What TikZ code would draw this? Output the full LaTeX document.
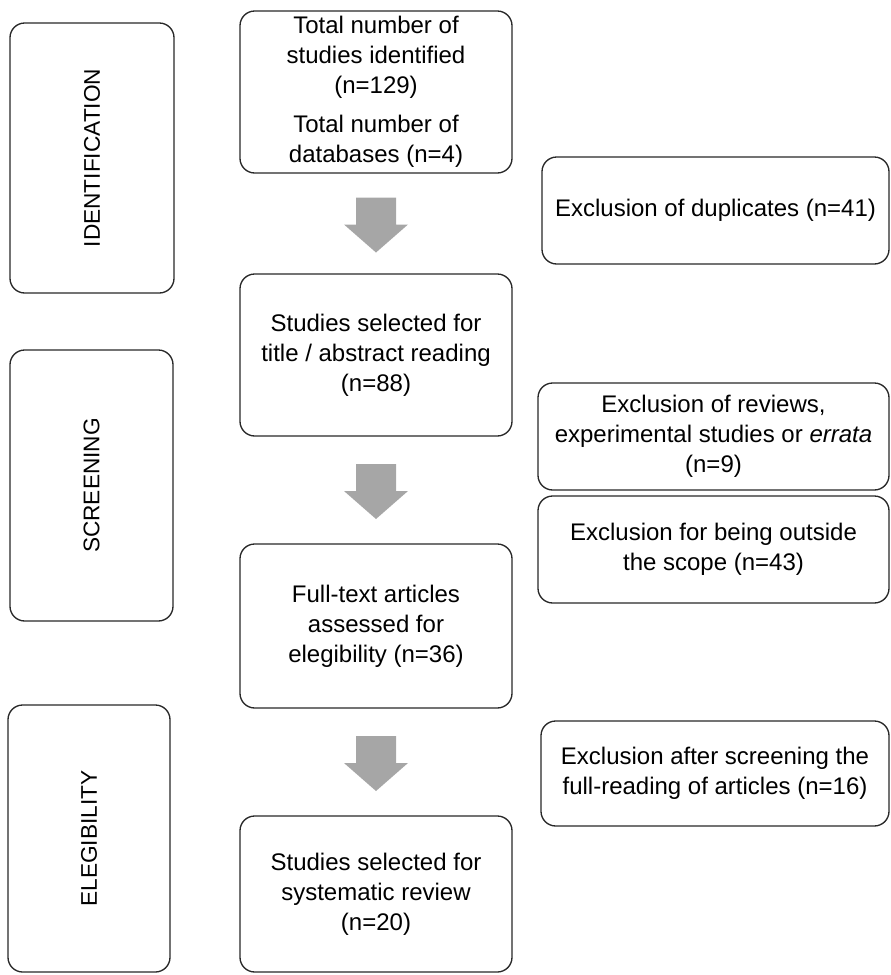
\documentclass[tikz,border=0pt]{standalone}
\usepackage{fontspec}
\setmainfont{Liberation Sans}
\usepackage{tikz}
\usetikzlibrary{calc,positioning}

\definecolor{arrowgray}{RGB}{166,166,166}
\definecolor{linegray}{RGB}{40,40,40}

\tikzset{
  flowbox/.style={draw=linegray,line width=1pt,rounded corners=11pt,inner sep=0pt,
    align=center,font=\fontsize{18pt}{22.5pt}\selectfont},
  mainbox/.style={flowbox,minimum width=204pt,minimum height=121.5pt},
  exclbox/.style={flowbox,minimum width=263.25pt,minimum height=80.25pt},
  phasebox/.style={flowbox,rotate=90,minimum width=202.5pt,minimum height=123pt,
    font=\fontsize{17pt}{20pt}\selectfont}
}

\begin{document}
\begin{tikzpicture}[x=0.75pt,y=-0.75pt]
\useasboundingbox (0,0) rectangle (891,975);
% phases
\node[phasebox] (ident) at (92,158) {IDENTIFICATION};
\node[phasebox,minimum width=203.25pt,minimum height=122.25pt] (screen) at (91.5,485.5) {SCREENING};
\node[phasebox,minimum width=200.25pt,minimum height=121.5pt] (elig) at (89,838.5) {ELEGIBILITY};
% main flow
\node[mainbox] (tot) at (376,92) {Total number of\\studies identified\\(n=129)\\[7pt]Total number of\\databases (n=4)};
\node[mainbox] (sel) at (376,355) {Studies selected for\\title / abstract reading\\(n=88)};
\node[mainbox,minimum height=123pt] (full) at (376,626) {Full-text articles\\assessed for\\elegibility (n=36)};
\node[mainbox,minimum height=117pt] (rev) at (376,894) {Studies selected for\\systematic review\\(n=20)};
% exclusions
\node[exclbox,minimum width=260.25pt] (dup) at (715.5,210.5) {Exclusion of duplicates (n=41)};
\node[exclbox] (err) at (713.5,436.5) {Exclusion of reviews,\\experimental studies or \textit{errata}\\(n=9)};
\node[exclbox] (scope) at (713.5,549.5) {Exclusion for being outside\\the scope (n=43)};
\node[exclbox,minimum width=261pt,minimum height=78.75pt] (after) at (715,773.5) {Exclusion after screening the\\full-reading of articles (n=16)};
% block arrows
\foreach \a/\b in {tot/sel,sel/full,full/rev}{
  \path (\a.south) -- (\b.north) coordinate[midway] (m);
  \fill[arrowgray] ($(m)+(-20,-26)$) -- ($(m)+(20,-26)$) -- ($(m)+(20,1)$) -- ($(m)+(32,1)$)
    -- ($(m)+(0,29)$) -- ($(m)+(-32,1)$) -- ($(m)+(-20,1)$) -- cycle;
}
\end{tikzpicture}
\end{document}
